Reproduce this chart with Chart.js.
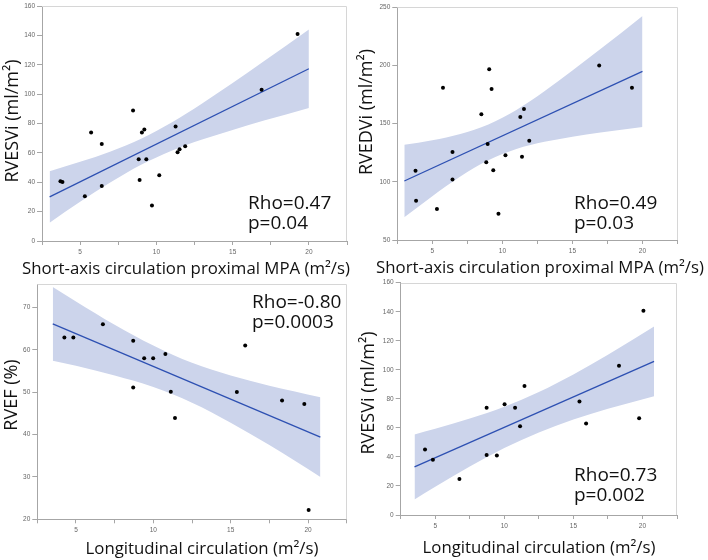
<!DOCTYPE html>
<html><head><meta charset="utf-8">
<script src="https://cdn.jsdelivr.net/npm/chart.js@4.4.1/dist/chart.umd.min.js"></script>
<style>
html,body{margin:0;padding:0;background:#fff;}
body{width:708px;height:560px;position:relative;overflow:hidden;font-family:"Open Sans",sans-serif;}
.c{position:absolute;}
.c canvas{display:block;}
.t{position:absolute;white-space:nowrap;line-height:1;color:#111;}
.xt{transform:translate(-50%,-50%);font-size:16.8px;}
.yt{transform:translate(-50%,-50%) rotate(-90deg);font-size:18px;}
.st{font-size:19px;line-height:20px;}
</style></head><body>
<div class="c" style="left:0;top:0;width:354px;height:280px"><canvas id="c1" width="354" height="280"></canvas></div>
<div class="c" style="left:354px;top:0;width:354px;height:280px"><canvas id="c2" width="354" height="280"></canvas></div>
<div class="c" style="left:0;top:272px;width:354px;height:288px"><canvas id="c3" width="354" height="288"></canvas></div>
<div class="c" style="left:354px;top:272px;width:354px;height:288px"><canvas id="c4" width="354" height="288"></canvas></div>

<div class="t yt" style="left:11px;top:121px">RVESVi (ml/m²)</div>
<div class="t xt" style="left:186px;top:268px">Short-axis circulation proximal MPA (m²/s)</div>
<div class="t st" style="left:248px;top:192px">Rho=0.47<br>p=0.04</div>

<div class="t yt" style="left:365px;top:112px">RVEDVi (ml/m²)</div>
<div class="t xt" style="left:540px;top:267px">Short-axis circulation proximal MPA (m²/s)</div>
<div class="t st" style="left:574px;top:192px">Rho=0.49<br>p=0.03</div>

<div class="t yt" style="left:10px;top:395px">RVEF (%)</div>
<div class="t xt" style="left:202px;top:548px">Longitudinal circulation (m²/s)</div>
<div class="t st" style="left:252px;top:291px">Rho=-0.80<br>p=0.0003</div>

<div class="t yt" style="left:367px;top:393px">RVESVi (ml/m²)</div>
<div class="t xt" style="left:539px;top:547px">Longitudinal circulation (m²/s)</div>
<div class="t st" style="left:574px;top:464px">Rho=0.73<br>p=0.002</div>

<script>
// ---- Panel A: RVESVi vs short-axis circulation ----
const xA = [3.71,3.84,5.31,5.72,6.42,6.42,8.47,8.84,8.90,9.05,9.21,9.34,9.71,10.19,11.26,11.39,11.52,11.89,16.9,19.26];
const yA = [40.7,40.2,30.5,73.9,66.1,37.5,88.9,55.7,41.6,73.9,75.9,55.7,24.1,44.8,78.0,60.5,62.5,64.5,103,141];
const fitXA = [3,20];
const fitYA = [30,117.3];
const bandXA = [3,5,7,9,11,13,15,17,20];
const bandUpA = [47.5,53.9,61.0,69.7,80.7,93.7,107.6,122,144];
const bandLoA = [12.5,26.7,40.0,51.9,61.5,69.1,75.6,81.8,90.6];

// ---- Panel B: RVEDVi vs short-axis circulation ----
const xB = [3.80,3.84,5.33,5.76,6.44,6.44,8.50,8.85,8.95,9.06,9.23,9.35,9.72,10.22,11.28,11.40,11.54,11.92,16.91,19.25];
const yB = [109.6,83.8,76.6,180.9,125.6,101.9,158,116.8,132.5,196.7,179.8,109.9,72.6,122.8,155.7,121.6,162.6,135.4,199.9,180.9];
const fitXB = [3,20];
const fitYB = [100.7,194.9];
const bandXB = [3,5,7,9,11,13,15,17,20];
const bandUpB = [131.8,135.8,141.2,149.3,161.8,177.8,195.6,214.1,242.6];
const bandLoB = [69.6,87.7,104.6,118.5,128.2,134.4,138.8,142.5,147.2];

// ---- Panel C: RVEF vs longitudinal circulation ----
const xC = [4.25,4.83,6.74,8.70,8.70,9.41,9.99,10.78,11.13,11.40,15.40,15.94,18.32,19.76,20.04];
const yC = [62.9,62.9,66.0,62.1,51.1,58.0,58.0,59.0,50.1,43.9,50.0,61.0,48.0,47.2,22.2];
const fitXC = [3.5,20.8];
const fitYC = [66.1,39.4];
const bandXC = [3.5,5,7.5,10,12.5,15,17.5,20.8];
const bandUpC = [74.8,71.4,65.9,61.0,56.9,53.9,51.5,48.8];
const bandLoC = [57.4,56.2,53.9,51.2,47.5,42.8,37.5,30.0];

// ---- Panel D: RVESVi vs longitudinal circulation ----
const xD = [4.26,4.83,6.75,8.72,8.72,9.46,10.02,10.78,11.14,11.46,15.44,15.92,18.30,19.76,20.07];
const yD = [45.2,38.1,24.8,73.9,41.3,40.9,76.2,73.9,61.1,88.8,78.1,63.1,102.8,66.6,140.7];
const fitXD = [3.5,20.84];
const fitYD = [33.1,105.8];
const bandXD = [3.5,5,7.5,10,12.5,15,17.5,20.84];
const bandUpD = [55.5,59.4,66.4,74.6,84.7,96.8,110.4,129.8];
const bandLoD = [10.7,19.5,33.4,46.1,56.9,65.8,73.2,81.8];

const BAND = 'rgb(204,212,235)';
const LINE = 'rgb(45,80,178)';
const AXIS = '#a6a6a6';
const FRAME = '#d6d6d6';
const TICKFONT = {family:'"Liberation Sans", Arial, sans-serif', size:6.5};
const TICKCOLOR = '#666';

const zip = (xs, ys) => xs.map((x, i) => ({x: x, y: ys[i]}));

const framePlugin = {
  id: 'frame',
  beforeDatasetsDraw(chart) {
    const a = chart.chartArea, ctx = chart.ctx;
    ctx.save();
    ctx.strokeStyle = FRAME;
    ctx.lineWidth = 1;
    ctx.beginPath();
    ctx.moveTo(a.left, Math.round(a.top) + 0.5);
    ctx.lineTo(Math.round(a.right) - 0.5, Math.round(a.top) + 0.5);
    ctx.lineTo(Math.round(a.right) - 0.5, a.bottom);
    ctx.stroke();
    ctx.restore();
  }
};

function makeChart(id, d) {
  new Chart(document.getElementById(id), {
    type: 'scatter',
    data: {datasets: [
      {data: zip(d.bx, d.bu), showLine: true, pointRadius: 0, borderWidth: 0, borderColor: 'rgba(0,0,0,0)',
       backgroundColor: BAND, fill: '+1', cubicInterpolationMode: 'monotone', order: 3},
      {data: zip(d.bx, d.bl), showLine: true, pointRadius: 0, borderWidth: 0, borderColor: 'rgba(0,0,0,0)',
       fill: false, cubicInterpolationMode: 'monotone', order: 3},
      {data: zip(d.fx, d.fy), showLine: true, pointRadius: 0, borderColor: LINE, borderWidth: 1.3, fill: false, order: 2},
      {data: zip(d.x, d.y), pointRadius: 2, pointBackgroundColor: '#000', pointBorderWidth: 0, order: 1}
    ]},
    options: {
      responsive: false, animation: false,
      plugins: {legend: {display: false}, tooltip: {enabled: false}},
      layout: {padding: {top: d.pt, right: d.pr, left: 0, bottom: 0}},
      scales: {
        x: {type: 'linear', min: 2.5, max: 22.5,
            afterFit(s) { s.height = d.xh; s.paddingLeft = 0; s.paddingRight = 0; },
            ticks: {stepSize: 2.5, autoSkip: false, maxRotation: 0, padding: 3, font: TICKFONT, color: TICKCOLOR,
                    includeBounds: false,
                    callback: v => (Math.abs(v % 5) < 1e-6 ? String(v) : '')},
            grid: {drawOnChartArea: false, tickLength: 4, color: AXIS},
            border: {color: AXIS}},
        y: {type: 'linear', min: d.ymin, max: d.ymax,
            afterFit(s) { s.width = d.yw; s.paddingTop = 0; s.paddingBottom = 0; },
            ticks: {stepSize: d.ystep, autoSkip: false, padding: 2, font: TICKFONT, color: TICKCOLOR, includeBounds: false},
            grid: {drawOnChartArea: false, tickLength: 5, color: AXIS},
            border: {color: AXIS}}
      }
    },
    plugins: [framePlugin]
  });
}

makeChart('c1', {x: xA, y: yA, fx: fitXA, fy: fitYA, bx: bandXA, bu: bandUpA, bl: bandLoA,
  ymin: 0, ymax: 160, ystep: 20, pt: 6, pr: 7, xh: 39, yw: 42});
makeChart('c2', {x: xB, y: yB, fx: fitXB, fy: fitYB, bx: bandXB, bu: bandUpB, bl: bandLoB,
  ymin: 50, ymax: 250, ystep: 50, pt: 7.3, pr: 30.5, xh: 40, yw: 43.3});
makeChart('c3', {x: xC, y: yC, fx: fitXC, fy: fitYC, bx: bandXC, bu: bandUpC, bl: bandLoC,
  ymin: 20, ymax: 75.5, ystep: 10, pt: 12, pr: 7.3, xh: 40.7, yw: 37.3});
makeChart('c4', {x: xD, y: yD, fx: fitXD, fy: fitYD, bx: bandXD, bu: bandUpD, bl: bandLoD,
  ymin: 0, ymax: 160, ystep: 20, pt: 10.7, pr: 31, xh: 45, yw: 46.7});
</script>
</body></html>
